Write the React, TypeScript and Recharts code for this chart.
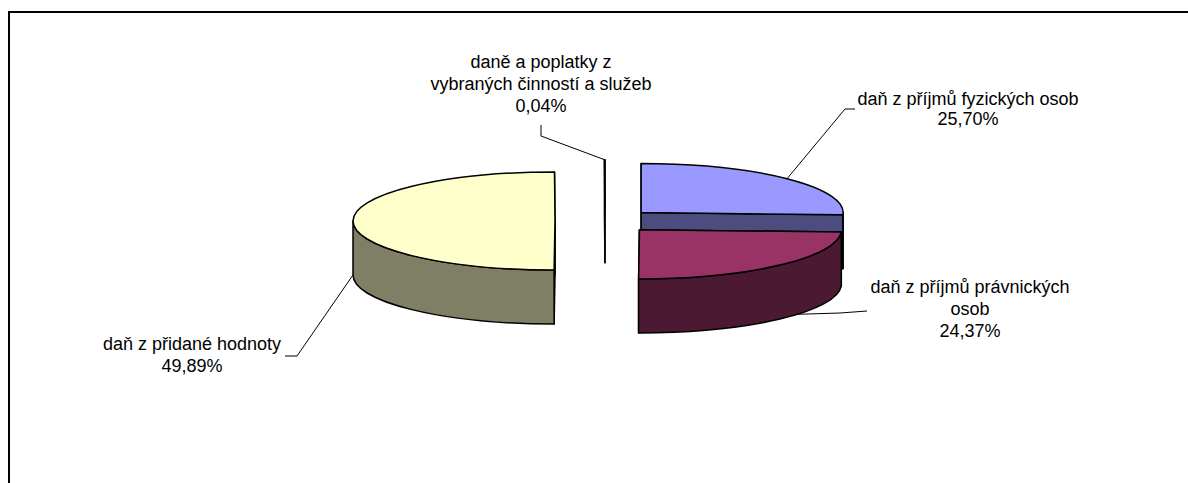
import React from 'react';
import { PieChart, Pie, Cell } from 'recharts';

// label lines as Excel wrapped them
const CATEGORY_LINES = [
  ['daň z příjmů fyzických osob'],
  ['daň z příjmů právnických', 'osob'],
  ['daň z přidané hodnoty'],
  ['daně a poplatky z', 'vybraných činností a služeb'],
];
const CATEGORIES = CATEGORY_LINES.map(l => l.join(' '));
const SHARES = [25.7, 24.37, 49.89, 0.04];

const data = CATEGORIES.map((name, i) => ({ name, value: SHARES[i] }));

const TOP_COLORS = ['#9999FF', '#993366', '#FFFFCC', '#CCFFFF'];
const SIDE_COLORS = ['#4C4C7F', '#4C1933', '#7F7F66', '#667F7F'];

const CX = 605;
const CY = 221;
const R = 202;
const TILT = 0.243; // ellipse ry / rx
const DEPTH = 54;
const EXPLODE = 50;

// label placement relative to the pie centre
const LABELS = [
  { tx: 363, ty: -116, lh: 20, shift: 0, base: false, path: [[240, -112], [250, -112]] },
  { tx: 365, ty: 72, lh: 22, shift: 8, base: true, path: [[235, 92], [262, 90]] },
  { tx: -413, ty: 129, lh: 22, shift: 0, base: true, path: [[-308, 135], [-320, 135]] },
  { tx: -64, ty: -153, lh: 22, shift: 0, base: false, path: [[-64, -85], [-64, -96]] },
];

const rad = (a: number) => (a * Math.PI) / 180;

function sliceCenter(cx: number, cy: number, mid: number) {
  return [cx + EXPLODE * Math.cos(rad(mid)), cy - EXPLODE * TILT * Math.sin(rad(mid))];
}

function indexOf(props: any) {
  const name = props?.payload?.name ?? props?.name;
  const i = CATEGORIES.indexOf(name);
  return i >= 0 ? i : props.index ?? 0;
}

function Slice3D(props: any) {
  const { cx, cy, outerRadius: r, startAngle: s, endAngle: e } = props;
  const i = indexOf(props);
  const mid = (s + e) / 2;
  const [ox, oy] = sliceCenter(cx, cy, mid);
  const ry = r * TILT;
  const pt = (a: number, dz = 0) => `${ox + r * Math.cos(rad(a))},${oy - ry * Math.sin(rad(a)) + dz}`;
  const large = s - e > 180 ? 1 : 0;

  const top = `M${ox},${oy} L${pt(s)} A${r},${ry} 0 ${large} 1 ${pt(e)} Z`;
  const faces = [s, e].map(a => `M${ox},${oy} L${pt(a)} L${pt(a, DEPTH)} L${ox},${oy + DEPTH} Z`);

  const hi = Math.min(s, 0);
  const lo = Math.max(e, -180);
  const wall =
    hi > lo
      ? `M${pt(hi)} A${r},${ry} 0 0 1 ${pt(lo)} L${pt(lo, DEPTH)} A${r},${ry} 0 0 0 ${pt(hi, DEPTH)} Z`
      : null;

  const common = { stroke: '#000', strokeWidth: 1.5, strokeLinejoin: 'round' as const };
  return (
    <g>
      {faces.map((d, k) => (
        <path key={k} d={d} fill={SIDE_COLORS[i]} {...common} />
      ))}
      {wall && <path d={wall} fill={SIDE_COLORS[i]} {...common} />}
      <path d={top} fill={TOP_COLORS[i]} {...common} />
    </g>
  );
}

function renderLabel(props: any) {
  const { cx, cy, outerRadius: r, midAngle, value } = props;
  const i = indexOf(props);
  const lay = LABELS[i];
  const [ox, oy] = sliceCenter(cx, cy, midAngle);
  const a = midAngle + lay.shift;
  const ax = ox + r * Math.cos(rad(a));
  const ay = oy - r * TILT * Math.sin(rad(a)) + (lay.base ? DEPTH : 0);
  const pts = [[ax, ay], ...lay.path.map(([dx, dy]) => [cx + dx, cy + dy])];
  const lines = [...CATEGORY_LINES[i], `${Number(value).toFixed(2).replace('.', ',')}%`];

  return (
    <g key={`lbl-${i}`}>
      <polyline points={pts.map(p => p.join(',')).join(' ')} fill="none" stroke="#000" strokeWidth={1} />
      <text
        x={cx + lay.tx}
        y={cy + lay.ty}
        textAnchor="middle"
        fontFamily="'Liberation Sans', Arial, sans-serif"
        fontSize={18}
        fill="#000"
      >
        {lines.map((t, j) => (
          <tspan key={j} x={cx + lay.tx} y={cy + lay.ty + j * lay.lh}>
            {t}
          </tspan>
        ))}
      </text>
    </g>
  );
}

export default function App() {
  return (
    <div style={{ position: 'fixed', left: 0, top: 0, width: 1188, height: 483, overflow: 'hidden', background: '#fff' }}>
      <div
        style={{
          position: 'absolute',
          left: 8,
          top: 11,
          width: 1400,
          height: 700,
          border: '2px solid #000',
        }}
      />
      <div style={{ position: 'absolute', left: 0, top: 0 }}>
        <PieChart width={1188} height={483} margin={{ top: 0, right: 0, bottom: 0, left: 0 }}>
          <Pie
            data={data}
            dataKey="value"
            nameKey="name"
            cx={CX}
            cy={CY}
            outerRadius={R}
            startAngle={90}
            endAngle={-270}
            isAnimationActive={false}
            shape={Slice3D}
            activeShape={Slice3D}
            inactiveShape={Slice3D}
            label={renderLabel}
            labelLine={false}
          >
            {data.map((entry, index) => (
              <Cell key={`cell-${index}`} fill={TOP_COLORS[index]} />
            ))}
          </Pie>
        </PieChart>
      </div>
    </div>
  );
}
